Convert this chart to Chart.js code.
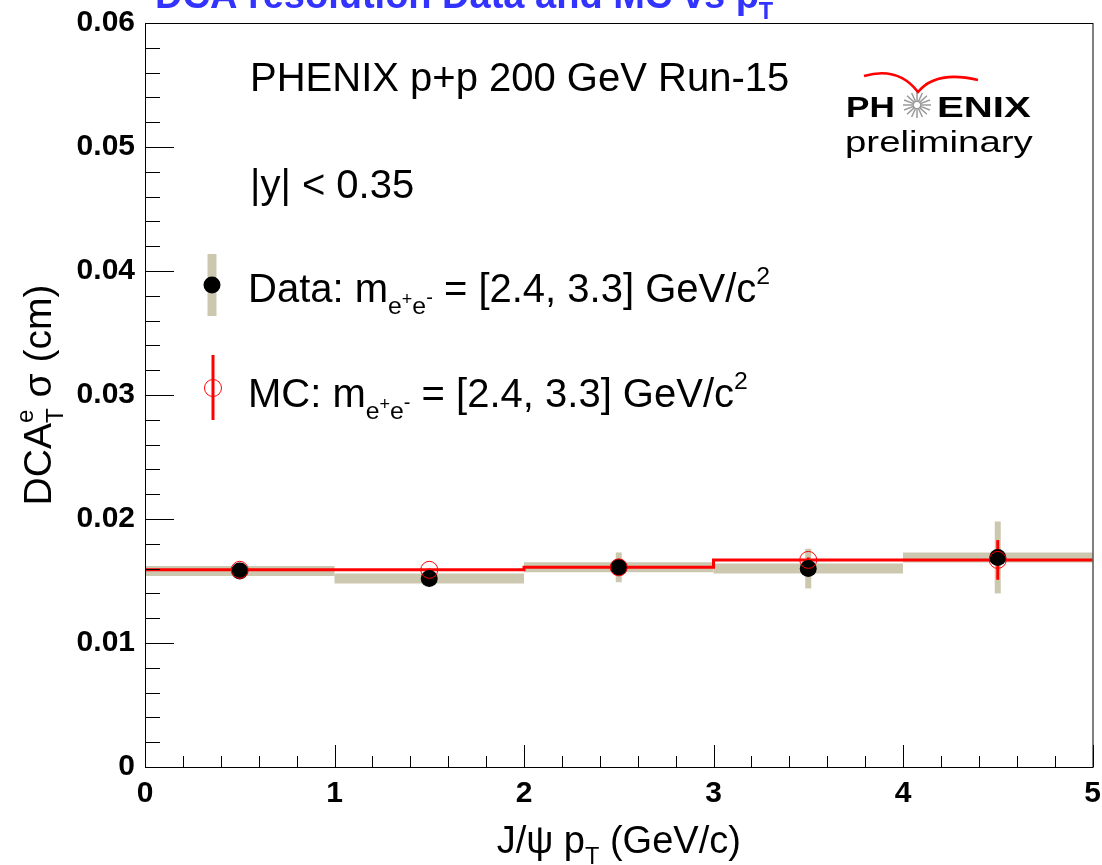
<!DOCTYPE html>
<html>
<head>
<meta charset="utf-8">
<script src="https://cdn.jsdelivr.net/npm/chart.js@4.4.1/dist/chart.umd.min.js"></script>
<style>
  body { margin: 0; background: #fff; }
  canvas { display: block; }
</style>
</head>
<body>
<canvas id="chartDCA" width="1102" height="865"></canvas>
<script>
// J/psi pT bins (GeV/c)
const ptLow = [0, 1, 2, 3, 4];
const ptHigh = [1, 2, 3, 4, 5];
const ptCenter = [0.5, 1.5, 2.5, 3.5, 4.5];

// DCA_T sigma (cm)
const dataSigma = [0.0158, 0.0152, 0.0161, 0.0160, 0.0169];
const dataErr = [0.0003, 0.0003, 0.0012, 0.0016, 0.0029];
const mcSigma = [0.0159, 0.0159, 0.0161, 0.0167, 0.0167];
const mcErr = [0.0001, 0.0001, 0.0001, 0.0002, 0.0016];

const yTicks = [0, 0.01, 0.02, 0.03, 0.04, 0.05, 0.06];
const xTicks = [0, 1, 2, 3, 4, 5];

const FONT = "'Liberation Sans', Arial, Helvetica, sans-serif";
const GRAY = "rgb(204, 199, 175)";
const RED = "rgb(255, 0, 0)";

// draw text made of pieces (sub/superscripts), dy in em (down is positive)
function richText(ctx, x, y, segs, size, align) {
  let total = 0, keep = 0;
  const widths = segs.map((s) => {
    ctx.font = `${s.bold ? "bold " : ""}${size * (s.s || 1)}px ${FONT}`;
    return ctx.measureText(s.t).width;
  });
  segs.forEach((s, i) => {
    if (s.keep) { keep = widths[i]; return; }
    total += Math.max(widths[i], keep); keep = 0;
  });
  let cx = align === "center" ? x - total / 2 : x;
  keep = 0;
  ctx.textAlign = "left";
  ctx.textBaseline = "alphabetic";
  segs.forEach((s, i) => {
    ctx.font = `${s.bold ? "bold " : ""}${size * (s.s || 1)}px ${FONT}`;
    ctx.fillText(s.t, cx, y + (s.dy || 0) * size);
    if (s.keep) { keep = widths[i]; return; }
    cx += Math.max(widths[i], keep); keep = 0;
  });
}

const massSegs = [
  { t: "e", s: 0.62, dy: 0.3 },
  { t: "+", s: 0.45, dy: 0.08 },
  { t: "e", s: 0.62, dy: 0.3 },
  { t: "-", s: 0.5, dy: 0.05 },
];

const decor = {
  id: "decor",
  beforeDatasetsDraw(chart) {
    const { ctx, scales: { x, y } } = chart;
    ctx.save();
    // data: horizontal bin bands and vertical error bars
    ctx.strokeStyle = GRAY;
    ctx.lineCap = "butt";
    dataSigma.forEach((v, i) => {
      ctx.lineWidth = 10;
      ctx.beginPath();
      ctx.moveTo(x.getPixelForValue(ptLow[i]), y.getPixelForValue(v));
      ctx.lineTo(x.getPixelForValue(ptHigh[i]), y.getPixelForValue(v));
      ctx.stroke();
      ctx.lineWidth = 6;
      ctx.beginPath();
      ctx.moveTo(x.getPixelForValue(ptCenter[i]), y.getPixelForValue(v - dataErr[i]));
      ctx.lineTo(x.getPixelForValue(ptCenter[i]), y.getPixelForValue(v + dataErr[i]));
      ctx.stroke();
    });
    // MC vertical error bars
    ctx.strokeStyle = RED;
    ctx.lineWidth = 3;
    mcSigma.forEach((v, i) => {
      ctx.beginPath();
      ctx.moveTo(x.getPixelForValue(ptCenter[i]), y.getPixelForValue(v - mcErr[i]));
      ctx.lineTo(x.getPixelForValue(ptCenter[i]), y.getPixelForValue(v + mcErr[i]));
      ctx.stroke();
    });
    ctx.restore();
  },
  afterDraw(chart) {
    const { ctx, chartArea: a, scales: { x, y } } = chart;
    ctx.save();
    // frame
    ctx.strokeStyle = "#000";
    ctx.lineWidth = 1;
    ctx.strokeRect(a.left + 0.5, a.top + 0.5, a.right - a.left, a.bottom - a.top);
    // inner ticks
    ctx.beginPath();
    for (let i = 0; i <= 30; i++) {
      const py = Math.round(y.getPixelForValue(i * 0.002)) + 0.5;
      const len = i % 5 === 0 ? 29 : 15;
      ctx.moveTo(a.left, py);
      ctx.lineTo(a.left + len, py);
    }
    for (let i = 0; i <= 25; i++) {
      const px = Math.round(x.getPixelForValue(i * 0.2)) + 0.5;
      const len = i % 5 === 0 ? 22 : 11;
      ctx.moveTo(px, a.bottom);
      ctx.lineTo(px, a.bottom - len);
    }
    ctx.stroke();

    ctx.fillStyle = "#000";
    // axis titles
    richText(ctx, (a.left + a.right) / 2, 853, [
      { t: "J/\u03c8 p" },
      { t: "T", s: 0.62, dy: 0.3 },
      { t: " (GeV/c)" },
    ], 38, "center");
    ctx.save();
    ctx.translate(51, (a.top + a.bottom) / 2);
    ctx.rotate(-Math.PI / 2);
    richText(ctx, 0, 0, [
      { t: "DCA" },
      { t: "e", s: 0.62, dy: -0.45, keep: true },
      { t: "T", s: 0.62, dy: 0.3 },
      { t: " \u03c3 (cm)" },
    ], 39, "center");
    ctx.restore();

    // title (partly off canvas)
    ctx.fillStyle = "rgb(51, 51, 255)";
    richText(ctx, 155, 8, [
      { t: "DCA resolution Data and MC vs p", bold: true },
      { t: "T", s: 0.62, dy: 0.3, bold: true },
    ], 38, "left");

    // labels
    ctx.fillStyle = "#000";
    richText(ctx, 250, 91, [{ t: "PHENIX p+p 200 GeV Run-15" }], 40, "left");
    richText(ctx, 250, 198, [{ t: "|y| < 0.35" }], 40, "left");

    // legend
    ctx.strokeStyle = GRAY;
    ctx.lineWidth = 9;
    ctx.beginPath(); ctx.moveTo(212, 254); ctx.lineTo(212, 316); ctx.stroke();
    ctx.fillStyle = "#000";
    ctx.beginPath(); ctx.arc(212, 285, 8.5, 0, Math.PI * 2); ctx.fill();
    ctx.strokeStyle = RED;
    ctx.lineWidth = 3;
    ctx.beginPath(); ctx.moveTo(213, 355); ctx.lineTo(213, 420); ctx.stroke();
    ctx.lineWidth = 1;
    ctx.beginPath(); ctx.arc(213, 388, 8.5, 0, Math.PI * 2); ctx.stroke();
    ctx.fillStyle = "#000";
    richText(ctx, 248, 302, [{ t: "Data: m" }, ...massSegs,
      { t: " = [2.4, 3.3] GeV/c" }, { t: "2", s: 0.62, dy: -0.45 }], 40, "left");
    richText(ctx, 248, 407, [{ t: "MC: m" }, ...massSegs,
      { t: " = [2.4, 3.3] GeV/c" }, { t: "2", s: 0.62, dy: -0.45 }], 40, "left");

    // PHENIX preliminary logo
    ctx.font = `bold 30px ${FONT}`;
    ctx.textAlign = "left";
    ctx.save(); ctx.translate(846, 117); ctx.scale(1.17, 1); ctx.fillText("PH", 0, 0); ctx.restore();
    ctx.save(); ctx.translate(937, 117); ctx.scale(1.34, 1); ctx.fillText("ENIX", 0, 0); ctx.restore();
    ctx.strokeStyle = "#9a9a9a";
    ctx.lineWidth = 1.5;
    ctx.beginPath();
    for (let k = 0; k < 16; k++) {
      const t = (k * Math.PI) / 8;
      ctx.moveTo(917 + 3 * Math.cos(t), 105 + 3 * Math.sin(t));
      ctx.lineTo(917 + 14 * Math.cos(t), 105 + 13 * Math.sin(t));
    }
    ctx.stroke();
    ctx.strokeStyle = RED;
    ctx.lineWidth = 2.5;
    ctx.beginPath();
    ctx.moveTo(864, 76);
    ctx.quadraticCurveTo(898, 66, 918, 92);
    ctx.quadraticCurveTo(936, 70, 978, 80);
    ctx.stroke();
    ctx.font = `30px ${FONT}`;
    ctx.save(); ctx.translate(845, 152); ctx.scale(1.28, 1); ctx.fillText("preliminary", 0, 0); ctx.restore();
    ctx.restore();
  },
};

document.addEventListener("DOMContentLoaded", () => {
  new Chart(document.querySelector("#chartDCA"), {
    type: "scatter",
    data: {
      datasets: [
        {
          label: "MC points",
          data: ptCenter.map((p, i) => ({ x: p, y: mcSigma[i] })),
          pointRadius: 8.5,
          pointBackgroundColor: "rgba(0,0,0,0)",
          pointBorderColor: RED,
          pointBorderWidth: 1,
          order: 0,
        },
        {
          label: "Data",
          data: ptCenter.map((p, i) => ({ x: p, y: dataSigma[i] })),
          pointRadius: 8.5,
          pointBackgroundColor: "#000",
          pointBorderColor: "#000",
          pointBorderWidth: 0,
          order: 1,
        },
        {
          type: "line",
          label: "MC",
          data: ptLow.map((p, i) => ({ x: p, y: mcSigma[i] }))
            .concat([{ x: ptHigh[ptHigh.length - 1], y: mcSigma[mcSigma.length - 1] }]),
          stepped: "before",
          borderColor: RED,
          borderWidth: 3,
          pointRadius: 0,
          fill: false,
          order: 2,
        },
      ],
    },
    options: {
      responsive: false,
      animation: false,
      layout: { padding: { top: 23, right: 9, left: 0, bottom: 0 } },
      scales: {
        x: {
          type: "linear",
          min: 0,
          max: 5,
          afterBuildTicks: (s) => { s.ticks = xTicks.map((v) => ({ value: v })); },
          afterFit: (s) => {
            s.height = 98;
            s.paddingLeft = 0;
            s.paddingRight = 0;
          },
          ticks: {
            color: "#000",
            font: { family: FONT, size: 30, weight: "bold" },
            padding: 9,
            maxRotation: 0,
            callback: (v) => String(v),
          },
          grid: { display: false, drawTicks: false },
          border: { display: false },
        },
        y: {
          min: 0,
          max: 0.06,
          afterBuildTicks: (s) => { s.ticks = yTicks.map((v) => ({ value: v })); },
          afterFit: (s) => {
            s.width = 145;
            s.paddingTop = 0;
            s.paddingBottom = 0;
          },
          ticks: {
            color: "#000",
            font: { family: FONT, size: 30, weight: "bold" },
            padding: 10,
            callback: (v) => (v === 0 ? "0" : v.toFixed(2)),
          },
          grid: { display: false, drawTicks: false },
          border: { display: false },
        },
      },
      plugins: {
        legend: { display: false },
        tooltip: { enabled: false },
      },
    },
    plugins: [decor],
  });
});
</script>
</body>
</html>
